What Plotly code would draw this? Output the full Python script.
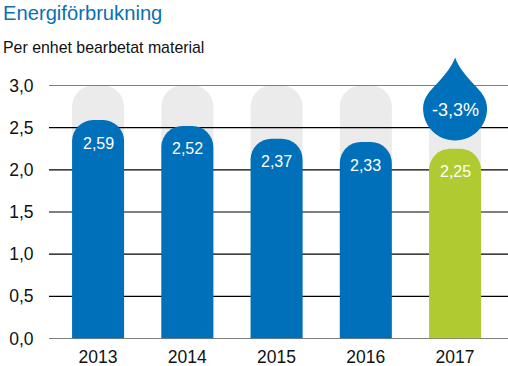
import plotly.graph_objects as go

title_text = "Energiförbrukning"
subtitle_text = "Per enhet bearbetat material"
years = [2013, 2014, 2015, 2016, 2017]
values = [2.59, 2.52, 2.37, 2.33, 2.25]
labels = ["2,59", "2,52", "2,37", "2,33", "2,25"]
background = [3.0, 3.0, 3.0, 3.0, 3.0]
y_ticks = [0.0, 0.5, 1.0, 1.5, 2.0, 2.5, 3.0]
change_label = "-3,3%"

BLUE = "#0070BA"
GREEN = "#B0CB32"
GREY = "#EBEBEB"
FONT = "Liberation Sans"
W, H = 508, 366
LEFT, RIGHT, TOP, BOTTOM = 49, 508, 85.5, 338.5
X_RANGE = [2013 - 0.55, 2013 + 4.593]
BAR_W = 0.583
RADIUS = 21
dom_x = [LEFT / W, RIGHT / W]
dom_y = [(H - BOTTOM) / H, (H - TOP) / H]

grid_x, grid_y = [], []
for t in y_ticks:
    grid_x += [X_RANGE[0], X_RANGE[1], None]
    grid_y += [t, t, None]

fig = go.Figure()
fig.add_bar(x=years, y=background, width=BAR_W, marker=dict(color=GREY, cornerradius=RADIUS, line_width=0),
            xaxis="x", yaxis="y", hoverinfo="skip", showlegend=False)
fig.add_scatter(x=grid_x, y=grid_y, mode="lines", line=dict(color="black", width=1.2), cliponaxis=False,
                xaxis="x", yaxis="y", hoverinfo="skip", showlegend=False)
fig.add_bar(x=years, y=values, width=BAR_W,
            marker=dict(color=[BLUE] * 4 + [GREEN], cornerradius=RADIUS, line_width=0),
            xaxis="x2", yaxis="y2", hoverinfo="skip", showlegend=False)

annotations = [
    dict(text=title_text, xref="paper", yref="paper", x=1 / W, y=1 - 13 / H, xanchor="left", yanchor="middle",
         showarrow=False, font=dict(family=FONT, size=20.2, color="#0A70B0")),
    dict(text=subtitle_text, xref="paper", yref="paper", x=1 / W, y=1 - 47 / H, xanchor="left", yanchor="middle",
         showarrow=False, font=dict(family=FONT, size=15.9, color="#111111")),
    dict(text=change_label, xref="x2", yref="paper", x=years[-1], y=1 - 110.5 / H, xanchor="center", yanchor="middle",
         showarrow=False, font=dict(family=FONT, size=18, color="white")),
]
for yr, v, lab in zip(years, values, labels):
    annotations.append(dict(text=lab, x=yr, y=v, xref="x2", yref="y2", yshift=-23, xanchor="center",
                            yanchor="middle", showarrow=False, font=dict(family=FONT, size=16, color="white")))

drop = ("M0,51 C-3,42 -10,34 -18,25 C-26,17 -32,10 -32,0 C-32,-17.7 -17.7,-32 0,-32 "
        "C17.7,-32 32,-17.7 32,0 C32,10 26,17 18,25 C10,34 3,42 0,51 Z")

fig.update_layout(
    width=W, height=H, margin=dict(l=0, r=0, t=0, b=0, pad=0), autosize=False,
    paper_bgcolor="white", plot_bgcolor="white", separators=", ", barmode="overlay",
    font=dict(family=FONT, color="#111111"),
    xaxis=dict(domain=dom_x, range=X_RANGE, tickmode="array", tickvals=years, ticktext=[str(y) for y in years],
               automargin=False, showgrid=False, zeroline=False, ticks="outside", ticklen=2,
               tickcolor="rgba(0,0,0,0)", tickfont=dict(size=17.5, family=FONT, color="#111111"), showline=False),
    yaxis=dict(domain=dom_y, range=[0, 3], tickmode="array", tickvals=y_ticks, tickformat=".1f",
               automargin=False, showgrid=False, zeroline=False, ticks="outside", ticklen=11,
               tickcolor="rgba(0,0,0,0)", tickfont=dict(size=17.5, family=FONT, color="#111111"), showline=False),
    xaxis2=dict(domain=dom_x, range=X_RANGE, overlaying="x", visible=False, automargin=False),
    yaxis2=dict(domain=dom_y, range=[0, 3], overlaying="y", visible=False, automargin=False),
    annotations=annotations,
    shapes=[dict(type="path", path=drop, xref="x2", yref="paper", xsizemode="pixel", ysizemode="pixel",
                 xanchor=years[-1], yanchor=1 - 108.5 / H, fillcolor=BLUE, line_width=0, layer="above")],
)
fig.write_html("out.html", post_script="document.body.style.margin='0';document.body.style.overflow='hidden';",
               config=dict(displayModeBar=False))
